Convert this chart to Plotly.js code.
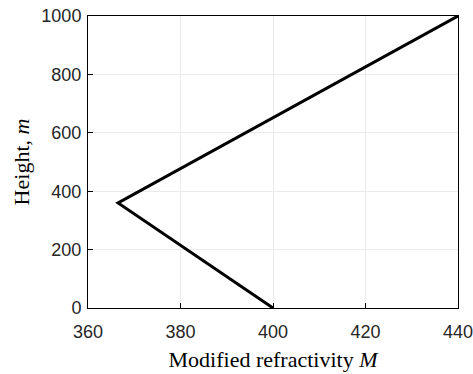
<!DOCTYPE html>
<html><head><meta charset="utf-8">
<script src="https://cdn.plot.ly/plotly-3.0.1.min.js"></script>
<style>body{margin:0;background:#fff}#c{width:473px;height:374px}</style>
</head><body><div id="c"></div>
<script>
const refractivityM = [400, 366.5, 440];
const heightM = [0, 360, 1000];
const xTicks = [360, 380, 400, 420, 440];
const yTicks = [0, 200, 400, 600, 800, 1000];

const axisCommon = {
  showline: true, linecolor: '#000', linewidth: 1, mirror: true,
  ticks: 'inside', ticklen: 5, tickcolor: '#000', tickwidth: 1,
  showgrid: true, gridcolor: '#ebebeb', gridwidth: 1,
  zeroline: false, ticklabeloverflow: 'allow',
  tickfont: {family: 'Liberation Sans, Arial, sans-serif', size: 18, color: '#262626'}
};

Plotly.newPlot('c', [{
  x: refractivityM, y: heightM, mode: 'lines', type: 'scatter',
  line: {color: '#000', width: 3}, hoverinfo: 'none'
}], {
  width: 473, height: 374,
  margin: {l: 88, r: 15, t: 16, b: 66},
  paper_bgcolor: '#fff', plot_bgcolor: '#fff',
  showlegend: false,
  xaxis: Object.assign({}, axisCommon, {
    range: [360, 440], tickvals: xTicks, ticktext: xTicks.map(String),
    ticklabelstandoff: 7,
    title: {text: 'Modified refractivity <i>M</i>', font: {family: 'Liberation Serif, Times New Roman, serif', size: 22, color: '#000'}, standoff: 11}
  }),
  yaxis: Object.assign({}, axisCommon, {
    range: [0, 1000], tickvals: yTicks, ticktext: yTicks.map(String),
    ticklabelstandoff: 2,
    title: {text: 'Height, <i>m</i>', font: {family: 'Liberation Serif, Times New Roman, serif', size: 22, color: '#000'}, standoff: 5}
  })
}, {displayModeBar: false, staticPlot: true});
</script></body></html>
